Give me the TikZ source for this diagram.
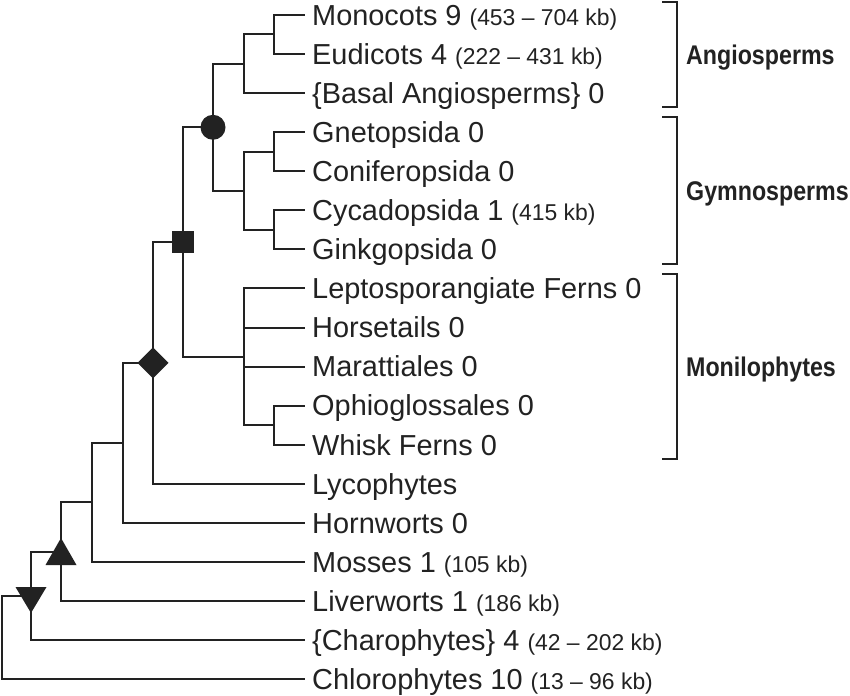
\documentclass[tikz,border=0pt]{standalone}
\usepackage{fontspec}
\setmainfont{Liberation Sans}
\newfontfamily\labfont[FakeStretch=0.86]{Liberation Sans Bold}
\usetikzlibrary{shapes.geometric,calc}
\definecolor{ink}{HTML}{222222}
\newcommand\kbtext[1]{{\fontsize{22.9}{25}\selectfont #1}}
\tikzset{
  branch/.style={draw=ink, line width=2pt},
  leaf/.style={anchor=base west, inner sep=0pt, text=ink, font=\fontsize{28.9}{31}\selectfont, yshift=-10.3pt},
  clade/.style={anchor=base west, inner sep=0pt, text=ink, font=\labfont\fontsize{27}{30}\selectfont, yshift=-9.7pt},
  blob/.style={fill=ink, draw=none, inner sep=0pt, outer sep=0pt},
}
\begin{document}
\begin{tikzpicture}[x=1pt,y=-1pt]
\useasboundingbox (0,0) rectangle (850,695);
% leaf line ends
\coordinate (eMono) at (305,15.0);
\coordinate (eEud)  at (305,54.1);
\coordinate (eBas)  at (305,93.1);
\coordinate (eGne)  at (305,132.2);
\coordinate (eCon)  at (305,171.2);
\coordinate (eCyc)  at (305,210.3);
\coordinate (eGin)  at (305,249.4);
\coordinate (eLep)  at (305,288.4);
\coordinate (eHor)  at (305,327.5);
\coordinate (eMar)  at (305,366.5);
\coordinate (eOph)  at (305,405.6);
\coordinate (eWhi)  at (305,444.7);
\coordinate (eLyc)  at (305,483.7);
\coordinate (eHrn)  at (305,522.8);
\coordinate (eMos)  at (305,561.8);
\coordinate (eLiv)  at (305,600.9);
\coordinate (eCha)  at (305,640.0);
\coordinate (eChl)  at (305,679.0);
% internal nodes
\coordinate (n1)   at (274,34.5);
\coordinate (n2)   at (244,63.8);
\coordinate (n3)   at (274,151.7);
\coordinate (n4)   at (274,229.8);
\coordinate (n5)   at (244,190.8);
\coordinate (circ) at (213,127.3);
\coordinate (n6)   at (274,425.1);
\coordinate (mon)  at (244,356.8);
\coordinate (sq)   at (183,242);
\coordinate (dia)  at (153,362.9);
\coordinate (hw)   at (123,442.8);
\coordinate (ms)   at (92,502.3);
\coordinate (tu)   at (61,551.6);
\coordinate (td)   at (31,595.8);
\coordinate (root) at (2,637.4);
% branches
\draw[branch] (n1) |- (eMono);  \draw[branch] (n1) |- (eEud);
\draw[branch] (n2) |- (n1);     \draw[branch] (n2) |- (eBas);
\draw[branch] (n3) |- (eGne);   \draw[branch] (n3) |- (eCon);
\draw[branch] (n4) |- (eCyc);   \draw[branch] (n4) |- (eGin);
\draw[branch] (n5) |- (n3);     \draw[branch] (n5) |- (n4);
\draw[branch] (circ) |- (n2);   \draw[branch] (circ) |- (n5);
\draw[branch] (n6) |- (eOph);   \draw[branch] (n6) |- (eWhi);
\draw[branch] (mon) |- (eLep);  \draw[branch] (mon) |- (eHor);
\draw[branch] (mon) |- (eMar);  \draw[branch] (mon) |- (n6);
\draw[branch] (sq) |- (circ);   \draw[branch] (sq) |- (mon);
\draw[branch] (dia) |- (sq);    \draw[branch] (dia) |- (eLyc);
\draw[branch] (hw) |- (dia);    \draw[branch] (hw) |- (eHrn);
\draw[branch] (ms) |- (hw);     \draw[branch] (ms) |- (eMos);
\draw[branch] (tu) |- (ms);     \draw[branch] (tu) |- (eLiv);
\draw[branch] (td) |- (tu);     \draw[branch] (td) |- (eCha);
\draw[branch] (root) |- (td);   \draw[branch] (root) |- (eChl);
% markers
\node[blob, circle, minimum size=25pt] (mCirc) at (circ) {};
\node[blob, rectangle, minimum size=22.5pt] (mSq) at (sq) {};
\node[blob, diamond, minimum width=31pt, minimum height=31pt] (mDia) at (dia) {};
\fill[ink] ($(tu)+(0,-13.6)$) -- ++(15.5,27) -- ++(-31,0) -- cycle;
\fill[ink] ($(td)+(-15.5,-8.8)$) -- ++(31,0) -- ++(-15.5,26) -- cycle;
% leaf labels
\node[leaf] (tMono) at (312,15.0)  {Monocots 9 \kbtext{(453 – 704 kb)}};
\node[leaf] (tEud)  at (312,54.1)  {Eudicots 4 \kbtext{(222 – 431 kb)}};
\node[leaf] (tBas)  at (312,93.1)  {\{Basal Angiosperms\} 0};
\node[leaf] (tGne)  at (312,132.2) {Gnetopsida 0};
\node[leaf] (tCon)  at (312,171.2) {Coniferopsida 0};
\node[leaf] (tCyc)  at (312,210.3) {Cycadopsida 1 \kbtext{(415 kb)}};
\node[leaf] (tGin)  at (312,249.4) {Ginkgopsida 0};
\node[leaf] (tLep)  at (312,288.4) {Leptosporangiate Ferns 0};
\node[leaf] (tHor)  at (312,327.5) {Horsetails 0};
\node[leaf] (tMar)  at (312,366.5) {Marattiales 0};
\node[leaf] (tOph)  at (312,405.6) {Ophioglossales 0};
\node[leaf] (tWhi)  at (312,444.7) {Whisk Ferns 0};
\node[leaf] (tLyc)  at (312,483.7) {Lycophytes};
\node[leaf] (tHrn)  at (312,522.8) {Hornworts 0};
\node[leaf] (tMos)  at (312,561.8) {Mosses 1 \kbtext{(105 kb)}};
\node[leaf] (tLiv)  at (312,600.9) {Liverworts 1 \kbtext{(186 kb)}};
\node[leaf] (tCha)  at (312,640.0) {\{Charophytes\} 4 \kbtext{(42 – 202 kb)}};
\node[leaf] (tChl)  at (312,679.0) {Chlorophytes 10 \kbtext{(13 – 96 kb)}};
% brackets
\draw[branch] (662,1.7) -- (676.7,1.7) -- (676.7,107.3) -- (662,107.3);
\draw[branch] (662,117.3) -- (676.7,117.3) -- (676.7,264) -- (662,264);
\draw[branch] (662,274.3) -- (676.7,274.3) -- (676.7,459.3) -- (662,459.3);
\node[clade] (lAng) at (686,54.5)  {Angiosperms};
\node[clade] (lGym) at (686,190.7) {Gymnosperms};
\node[clade] (lMon) at (686,366.8) {Monilophytes};
\end{tikzpicture}
\end{document}
